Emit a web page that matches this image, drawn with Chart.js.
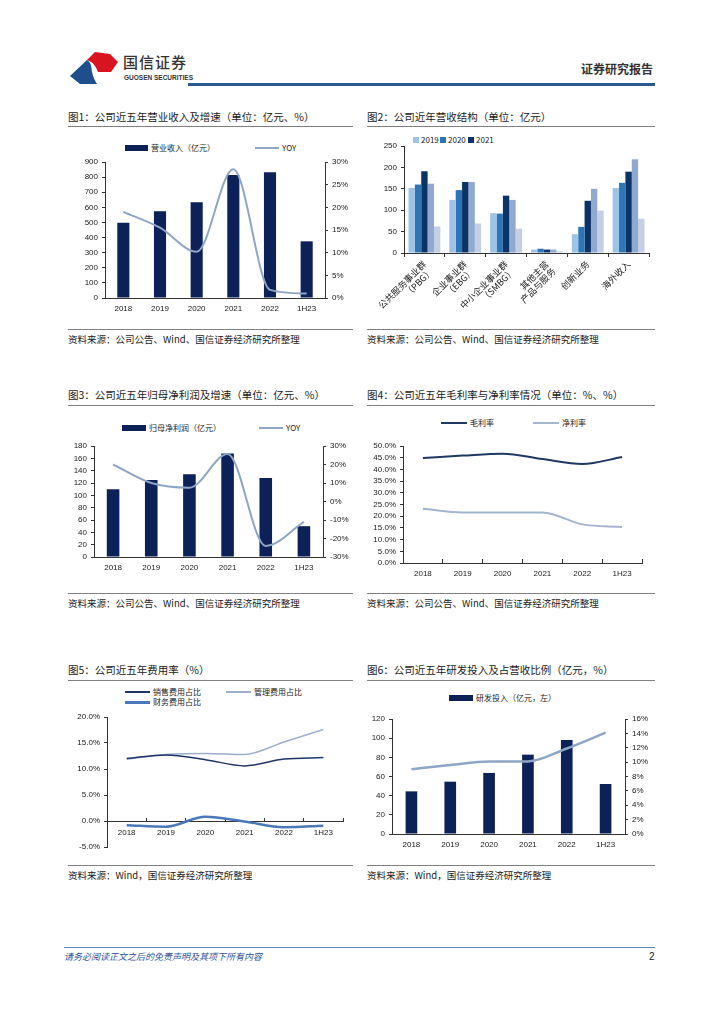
<!DOCTYPE html>
<html>
<head>
<meta charset="utf-8">
<script src="https://cdn.jsdelivr.net/npm/chart.js@4.4.1/dist/chart.umd.min.js"></script>
<style>
body{margin:0;width:724px;height:1024px;background:#fff;position:relative;overflow:hidden;font-family:"Noto Sans CJK SC","Noto Sans",sans-serif;color:#1a1a1a}
.title{position:absolute;font-size:10.5px;line-height:12px;white-space:nowrap}
.rule{position:absolute;height:1px;background:#808080}
.src{position:absolute;font-size:9.5px;line-height:11px;white-space:nowrap}
canvas{position:absolute}
.lg{position:absolute;font-size:8px;line-height:10px;white-space:nowrap;display:flex;align-items:center}
.sw{display:inline-block;margin-right:3px}
</style>
</head>
<body>
<!-- header -->
<svg style="position:absolute;left:0;top:0" width="724" height="100">
  <path d="M70 76 L87 60 C92 63 91 68 92 72 C93 77 95 81 97 84 L80 84 Z" fill="#1f4e8c"/>
  <path d="M87 60 L95 52 L110 54 L118 62 L111 72 L98 72 C96 68 95 63 87 60 Z" fill="#d7141f"/>
</svg>
<div style="position:absolute;left:123px;top:53px;font-size:15px;line-height:18px;letter-spacing:1px;font-weight:500;color:#333">国信证券</div>
<div style="position:absolute;left:124px;top:74px;font-family:'Liberation Sans',Arial,sans-serif;font-size:6.5px;font-weight:bold;line-height:8px;color:#333">GUOSEN SECURITIES</div>
<div style="position:absolute;left:581px;top:62px;font-size:12px;line-height:14px;font-weight:bold;color:#333">证券研究报告</div>
<div style="position:absolute;left:188px;top:83px;width:467px;height:2.5px;background:#2b5b8e"></div>

<!-- panel titles / rules / sources -->
<div class="title" style="left:68px;top:111px">图1：公司近五年营业收入及增速（单位：亿元、%）</div>
<div class="rule" style="left:68px;top:126px;width:285px"></div>
<div class="rule" style="left:68px;top:329px;width:285px"></div>
<div class="src" style="left:68px;top:334px">资料来源：公司公告、Wind、国信证券经济研究所整理</div>

<div class="title" style="left:367px;top:111px">图2：公司近年营收结构（单位：亿元）</div>
<div class="rule" style="left:367px;top:126px;width:288px"></div>
<div class="rule" style="left:367px;top:329px;width:288px"></div>
<div class="src" style="left:367px;top:334px">资料来源：公司公告、Wind、国信证券经济研究所整理</div>

<div class="title" style="left:68px;top:389px">图3：公司近五年归母净利润及增速（单位：亿元、%）</div>
<div class="rule" style="left:68px;top:405px;width:285px"></div>
<div class="rule" style="left:68px;top:593px;width:285px"></div>
<div class="src" style="left:68px;top:598px">资料来源：公司公告、Wind、国信证券经济研究所整理</div>

<div class="title" style="left:367px;top:389px">图4：公司近五年毛利率与净利率情况（单位：%、%）</div>
<div class="rule" style="left:367px;top:405px;width:288px"></div>
<div class="rule" style="left:367px;top:593px;width:288px"></div>
<div class="src" style="left:367px;top:598px">资料来源：公司公告、Wind、国信证券经济研究所整理</div>

<div class="title" style="left:68px;top:664px">图5：公司近五年费用率（%）</div>
<div class="rule" style="left:68px;top:680px;width:285px"></div>
<div class="rule" style="left:68px;top:865px;width:285px"></div>
<div class="src" style="left:68px;top:870px">资料来源：Wind，国信证券经济研究所整理</div>

<div class="title" style="left:367px;top:664px">图6：公司近五年研发投入及占营收比例（亿元，%）</div>
<div class="rule" style="left:367px;top:680px;width:288px"></div>
<div class="rule" style="left:367px;top:865px;width:288px"></div>
<div class="src" style="left:367px;top:870px">资料来源：Wind，国信证券经济研究所整理</div>

<!-- legends -->
<div class="lg" style="left:125px;top:143px"><span class="sw" style="width:23px;height:6px;background:#0d2159"></span>营业收入（亿元）</div>
<div class="lg" style="left:255px;top:143px"><span class="sw" style="width:24px;height:2px;background:#8ea6c6"></span>YOY</div>

<div class="lg" style="left:413px;top:135px"><span class="sw" style="width:6px;height:6px;background:#9dc3e6;margin-right:2px"></span>2019</div>
<div class="lg" style="left:440px;top:135px"><span class="sw" style="width:6px;height:6px;background:#2e75b6;margin-right:2px"></span>2020</div>
<div class="lg" style="left:468px;top:135px"><span class="sw" style="width:6px;height:6px;background:#0b3366;margin-right:2px"></span>2021</div>

<div class="lg" style="left:122px;top:423px"><span class="sw" style="width:24px;height:6px;background:#0d2159"></span>归母净利润（亿元）</div>
<div class="lg" style="left:259px;top:423px"><span class="sw" style="width:24px;height:2px;background:#8ea6c6"></span>YOY</div>

<div class="lg" style="left:441px;top:418px"><span class="sw" style="width:26px;height:2px;background:#1f3864"></span>毛利率</div>
<div class="lg" style="left:533px;top:418px"><span class="sw" style="width:26px;height:2px;background:#a3b5cf"></span>净利率</div>

<div class="lg" style="left:125px;top:687px"><span class="sw" style="width:25px;height:1.5px;background:#1f3566"></span>销售费用占比</div>
<div class="lg" style="left:226px;top:687px"><span class="sw" style="width:25px;height:1.5px;background:#9cb0cc"></span>管理费用占比</div>
<div class="lg" style="left:125px;top:697px"><span class="sw" style="width:25px;height:3px;background:#4a78b8"></span>财务费用占比</div>

<div class="lg" style="left:449px;top:693px"><span class="sw" style="width:24px;height:6px;background:#0d2159"></span>研发投入（亿元，左）</div>

<!-- charts -->
<canvas id="c1" width="290" height="200" style="left:68px;top:128px"></canvas>
<canvas id="c2" width="290" height="200" style="left:368px;top:128px"></canvas>
<canvas id="c3" width="290" height="183" style="left:68px;top:407px"></canvas>
<canvas id="c4" width="290" height="183" style="left:368px;top:407px"></canvas>
<canvas id="c5" width="290" height="181" style="left:68px;top:682px"></canvas>
<canvas id="c6" width="290" height="181" style="left:368px;top:682px"></canvas>

<!-- footer -->
<div style="position:absolute;left:64px;top:947px;width:591px;height:1px;background:#5b84b1"></div>
<div style="position:absolute;left:64px;top:951px;font-size:9px;line-height:11px;font-style:italic;color:#2f5597">请务必阅读正文之后的免责声明及其项下所有内容</div>
<div style="position:absolute;left:649px;top:951px;font-family:'Liberation Sans',Arial,sans-serif;font-size:10px;line-height:11px">2</div>

<script>
// data
const years = ['2018', '2019', '2020', '2021', '2022', '1H23'];
const revenue = [498, 574, 634, 814, 832, 375];
const revenueYoy = [19.0, 15.5, 10.2, 28.4, 1.8, 1.0];

const segments = [['公共服务事业群', '（PBG）'], ['企业事业群', '（EBG）'], ['中小企业事业群', '（SMBG）'], ['其他主营', '产品与服务'], ['创新业务'], ['海外收入']];
const seg2019 = [152, 124, 93, 8, 44, 152];
const seg2020 = [160, 147, 92, 10, 61, 164];
const seg2021 = [191, 166, 134, 8, 122, 190];
const seg2022 = [162, 166, 124, 8, 150, 219];
const seg1H23 = [62, 69, 57, 4, 99, 80];

const netProfit = [110, 125, 134, 168, 128, 50];
const netProfitYoy = [20, 10, 7.5, 25.7, -24, -11];

const grossMargin = [44.9, 45.9, 46.7, 44.4, 42.3, 45.3];
const netMargin = [23.2, 21.6, 21.6, 21.6, 16.5, 15.4];

const salesRatio = [12.0, 12.7, 11.8, 10.6, 11.9, 12.2];
const adminRatio = [11.9, 12.8, 13.0, 12.8, 15.2, 17.6];
const financeRatio = [-0.8, -1.1, 0.8, -0.1, -1.2, -0.9];

const rdSpend = [44.5, 54.6, 63.7, 82.8, 98, 52.2];
const rdRatio = [9.0, 9.6, 10.1, 10.1, 11.9, 14.1];

Chart.defaults.font.family = '"Liberation Sans", Arial, sans-serif';
Chart.defaults.font.size = 8;
Chart.defaults.color = '#1a1a1a';

const navy = '#0d2159';
const yoyColor = '#8ea6c6';
const axisColor = '#333';

function axisY(min, max, step, fmt, width, pos) {
    return {
        position: pos || 'left',
        min: min,
        max: max,
        ticks: { stepSize: step, padding: 4, autoSkip: false, callback: fmt },
        grid: { display: true, drawOnChartArea: false, drawTicks: true, tickLength: 3, color: axisColor },
        border: { display: true, color: axisColor },
        afterFit: s => { s.width = width; }
    };
}

function axisX(height, extra) {
    return Object.assign({
        ticks: { padding: 6, maxRotation: 0, autoSkip: false },
        grid: { display: false, drawTicks: false },
        border: { display: true, color: axisColor },
        afterFit: s => { s.height = height; }
    }, extra || {});
}

function baseOptions(pad, scales) {
    return {
        responsive: false,
        animation: false,
        layout: { padding: pad },
        plugins: { legend: { display: false }, tooltip: { enabled: false } },
        scales: scales
    };
}

const pct0 = v => v + '%';
const pct1 = v => v.toFixed(1) + '%';

// fig 1
new Chart(document.getElementById('c1'), {
    type: 'bar',
    data: {
        labels: years,
        datasets: [
            { type: 'bar', data: revenue, backgroundColor: navy, barPercentage: 0.33, categoryPercentage: 1, yAxisID: 'y', order: 2 },
            { type: 'line', data: revenueYoy, borderColor: yoyColor, borderWidth: 2, pointRadius: 0, cubicInterpolationMode: 'monotone', yAxisID: 'y1', order: 1 }
        ]
    },
    options: baseOptions({ top: 34, left: 0, right: 0, bottom: 0 }, {
        x: axisX(30),
        y: axisY(0, 900, 100, v => v, 37),
        y1: axisY(0, 30, 5, pct0, 33, 'right')
    })
});

// fig 2
new Chart(document.getElementById('c2'), {
    type: 'bar',
    data: {
        labels: segments,
        datasets: [
            { label: '2019', data: seg2019, backgroundColor: '#9dc3e6' },
            { label: '2020', data: seg2020, backgroundColor: '#2e75b6' },
            { label: '2021', data: seg2021, backgroundColor: '#0b3366' },
            { label: '2022', data: seg2022, backgroundColor: '#8fa9d0' },
            { label: '1H23', data: seg1H23, backgroundColor: '#c4cfe5' }
        ].map(d => Object.assign(d, { barPercentage: 1, categoryPercentage: 0.78 }))
    },
    options: baseOptions({ top: 18, left: 0, right: 9, bottom: 0 }, {
        x: axisX(75, {
            ticks: { padding: 2, minRotation: 45, maxRotation: 45, autoSkip: false, font: { family: '"Noto Sans CJK SC", sans-serif', size: 9, lineHeight: 1.1 } },
            grid: { display: true, drawOnChartArea: false, drawTicks: true, tickLength: 4, offset: true, color: axisColor }
        }),
        y: axisY(0, 250, 50, v => v, 36)
    })
});

// fig 3
new Chart(document.getElementById('c3'), {
    type: 'bar',
    data: {
        labels: years,
        datasets: [
            { type: 'bar', data: netProfit, backgroundColor: navy, barPercentage: 0.33, categoryPercentage: 1, yAxisID: 'y', order: 2 },
            { type: 'line', data: netProfitYoy, borderColor: yoyColor, borderWidth: 2, pointRadius: 0, cubicInterpolationMode: 'monotone', yAxisID: 'y1', order: 1 }
        ]
    },
    options: baseOptions({ top: 39, left: 0, right: 0, bottom: 0 }, {
        x: axisX(33),
        y: axisY(0, 180, 20, v => v, 26),
        y1: axisY(-30, 30, 10, pct0, 35, 'right')
    })
});

// fig 4
new Chart(document.getElementById('c4'), {
    type: 'line',
    data: {
        labels: years,
        datasets: [
            { data: grossMargin, borderColor: '#1f3864', borderWidth: 2, pointRadius: 0, cubicInterpolationMode: 'monotone' },
            { data: netMargin, borderColor: '#a3b5cf', borderWidth: 2, pointRadius: 0, cubicInterpolationMode: 'monotone' }
        ]
    },
    options: baseOptions({ top: 39, left: 0, right: 16, bottom: 0 }, {
        x: axisX(27, {
            offset: true,
            ticks: { padding: 10, maxRotation: 0, autoSkip: false },
            grid: { display: true, drawOnChartArea: false, drawTicks: true, tickLength: -4, offset: true, color: axisColor }
        }),
        y: axisY(0, 50, 5, pct1, 35)
    })
});

// fig 5
new Chart(document.getElementById('c5'), {
    type: 'line',
    data: {
        labels: years,
        datasets: [
            { data: salesRatio, borderColor: '#1f3566', borderWidth: 1.5, pointRadius: 0, cubicInterpolationMode: 'monotone' },
            { data: adminRatio, borderColor: '#9cb0cc', borderWidth: 1.5, pointRadius: 0, cubicInterpolationMode: 'monotone' },
            { data: financeRatio, borderColor: '#4a78b8', borderWidth: 2.5, pointRadius: 0, cubicInterpolationMode: 'monotone' }
        ]
    },
    options: baseOptions({ top: 35, left: 0, right: 15, bottom: 16 }, {
        x: {
            position: { y: 0 },
            offset: true,
            ticks: { padding: 11, maxRotation: 0, autoSkip: false },
            grid: { display: true, drawOnChartArea: false, drawTicks: true, tickLength: -4, offset: true, color: axisColor },
            border: { display: true, color: axisColor }
        },
        y: axisY(-5, 20, 5, pct1, 39)
    })
});

// fig 6
new Chart(document.getElementById('c6'), {
    type: 'bar',
    data: {
        labels: years,
        datasets: [
            { type: 'bar', data: rdSpend, backgroundColor: navy, barPercentage: 0.3, categoryPercentage: 1, yAxisID: 'y', order: 2 },
            { type: 'line', data: rdRatio, borderColor: yoyColor, borderWidth: 2.5, pointRadius: 0, cubicInterpolationMode: 'monotone', yAxisID: 'y1', order: 1 }
        ]
    },
    options: baseOptions({ top: 37, left: 0, right: 0, bottom: 0 }, {
        x: axisX(29),
        y: axisY(0, 120, 20, v => v, 24),
        y1: axisY(0, 16, 2, pct0, 33, 'right')
    })
});
</script>
</body>
</html>
